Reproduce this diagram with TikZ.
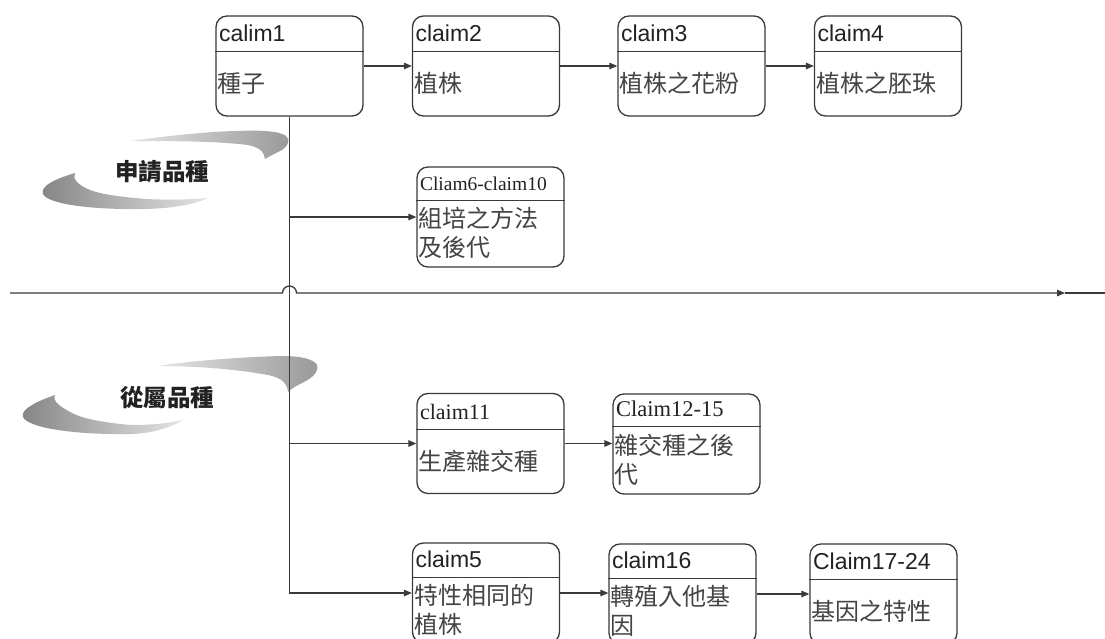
\documentclass[tikz,border=0pt]{standalone}
\usepackage{fontspec}
\setmainfont{Liberation Serif}
\newfontfamily\hsans{Liberation Sans}
\newfontfamily\cjk{Noto Sans CJK TC}
\usetikzlibrary{arrows.meta,calc}
\definecolor{linec}{HTML}{3A3A3A}
\definecolor{txtc}{HTML}{222222}
\definecolor{bodyc}{HTML}{444444}
\definecolor{swdark}{HTML}{858585}
\definecolor{swmid}{HTML}{999999}
\definecolor{swlight}{HTML}{E4E4E4}
\tikzset{
  cbx/.style={draw=linec, line width=1.3pt, rounded corners=11pt, minimum width=147pt, minimum height=100pt, inner sep=0pt},
  hline/.style={draw=linec, line width=1.2pt},
  hdrtxt/.style={anchor=base west, inner sep=0pt, text=txtc},
  bodytxt/.style={anchor=west, inner sep=0pt, align=left, text=bodyc, font=\cjk\fontsize{24}{29}\selectfont},
  conn/.style={draw=linec, line width=1.3pt, -{Triangle[length=8pt,width=6.5pt]}},
  plain/.style={draw=linec, line width=1.3pt},
  swlabel/.style={text=txtc, inner sep=0pt, font=\cjk\bfseries\fontsize{23.5}{24}\selectfont},
  swup/.style={left color=swlight, right color=swmid},
  swlow/.style={left color=swdark, right color=swlight},
}
\newcommand\claimbox[7]{%
  \node[cbx] (#1) at (#2,#3) {};
  \draw[hline] ([yshift=-#4pt]#1.north west) -- ([yshift=-#4pt]#1.north east);
  \node[hdrtxt, font={#5}] (#1h) at ([xshift=3.5pt,yshift=-#4pt+10pt]#1.north west) {#6};
  \node[bodytxt] (#1b) at ([xshift=2pt,yshift=-#4pt/2-50pt]#1.north west) {#7};
}
\begin{document}
\begin{tikzpicture}[x=1pt,y=-1pt]
\useasboundingbox (0,0) rectangle (1105,639);
\fill[white] (0,0) rectangle (1105,639);
\clip (0,0) rectangle (1105,639);

% swoosh 1
\shade[swup]
  (130,141) .. controls (160,137) and (200,132) .. (235,131)
  .. controls (260,130) and (280,131) .. (286,136)
  .. controls (291,140) and (288,146) .. (282,150)
  .. controls (276,153) and (270,156) .. (265,159)
  .. controls (264,153) and (262,148) .. (248,145)
  .. controls (215,141) and (170,141) .. (130,141) -- cycle;
\shade[swlow]
  (75,173) .. controls (55,179) and (40,186) .. (43,194)
  .. controls (48,204) and (90,210) .. (147,209)
  .. controls (178,208) and (198,203) .. (208,198)
  .. controls (185,200) and (165,200) .. (147,199)
  .. controls (120,197) and (100,194) .. (90,190)
  .. controls (78,185) and (72,179) .. (75,173) -- cycle;
\node[swlabel] (lab1) at (162,172) {申請品種};

% swoosh 2
\shade[swup]
  (158,366) .. controls (190,361) and (240,357) .. (282,356)
  .. controls (300,356) and (314,359) .. (317,365)
  .. controls (319,372) and (312,378) .. (304,382)
  .. controls (298,385) and (292,388) .. (288,392)
  .. controls (287,384) and (283,378) .. (268,375)
  .. controls (235,369) and (195,366) .. (158,366) -- cycle;
\shade[swlow]
  (55,395) .. controls (38,401) and (20,409) .. (23,417)
  .. controls (28,428) and (75,435) .. (132,434)
  .. controls (158,433) and (175,425) .. (183,420)
  .. controls (165,424) and (148,425) .. (132,425)
  .. controls (105,423) and (85,419) .. (74,414)
  .. controls (60,407) and (52,401) .. (55,395) -- cycle;
\node[swlabel] (lab2) at (167,398) {從屬品種};

% boxes
\claimbox{b1}{289.5}{66}{36}{\hsans\fontsize{23}{26}\selectfont}{calim1}{種子}
\claimbox{b2}{486}{66}{36}{\hsans\fontsize{23}{26}\selectfont}{claim2}{植株}
\claimbox{b3}{691.5}{66}{36}{\hsans\fontsize{23}{26}\selectfont}{claim3}{植株之花粉}
\claimbox{b4}{888}{66}{36}{\hsans\fontsize{23}{26}\selectfont}{claim4}{植株之胚珠}
\claimbox{b6}{490.5}{217}{34}{\fontsize{19.5}{22}\selectfont}{Cliam6-claim10}{組培之方法\\及後代}
\claimbox{b11}{490.5}{443.5}{37}{\fontsize{22}{25}\selectfont}{claim11}{生產雜交種}
\claimbox{b12}{686.5}{444}{33}{\fontsize{22.5}{25}\selectfont}{Claim12-15}{雜交種之後\\代}
\claimbox{b5}{486}{593}{35}{\hsans\fontsize{23}{26}\selectfont}{claim5}{特性相同的\\植株}
\claimbox{b16}{682.5}{594}{35}{\hsans\fontsize{23}{26}\selectfont}{claim16}{轉殖入他基\\因}
\claimbox{b17}{883.5}{594}{36}{\hsans\fontsize{23}{26}\selectfont}{Claim17-24}{基因之特性}

% main axis
\coordinate (ml) at (10,293);
\coordinate (mt) at (1065,293);
\coordinate (mr) at (1105,293);
\draw[conn] (ml) -- ([xshift=-7pt]b1.south |- ml) arc[start angle=180, end angle=0, radius=7pt] -- (mt);
\draw[plain] (mt) -- (mr);

% trunk and branches
\draw[conn] (b1.south) |- (b5.west);
\draw[conn] (b1.south |- b6.west) -- (b6.west);
\draw[conn] (b1.south |- b11.west) -- (b11.west);

% row connectors
\draw[conn] (b1.east) -- (b1.east -| b2.west);
\draw[conn] (b2.east) -- (b2.east -| b3.west);
\draw[conn] (b3.east) -- (b3.east -| b4.west);
\draw[conn] (b11.east) -- (b11.east -| b12.west);
\draw[conn] (b5.east) -- (b5.east -| b16.west);
\draw[conn] (b16.east) -- (b16.east -| b17.west);
\end{tikzpicture}
\end{document}
